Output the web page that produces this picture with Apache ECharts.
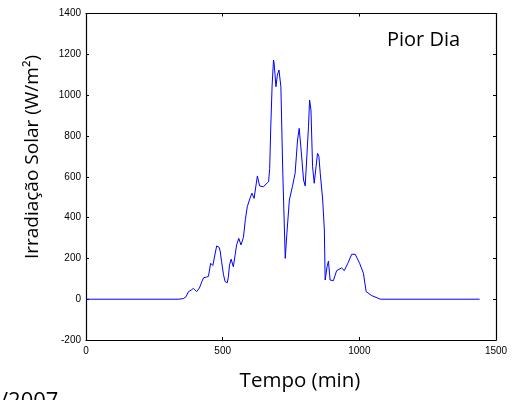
<!DOCTYPE html>
<html>
<head>
<meta charset="utf-8">
<script src="https://cdn.jsdelivr.net/npm/echarts@6/dist/echarts.min.js"></script>
<style>
html,body{margin:0;padding:0;background:#fff;}
#c{width:513px;height:400px;}
</style>
</head>
<body>
<div id="c"></div>
<script>
const timeMin = [0, 340, 356, 366, 375, 385, 393, 400, 405, 415, 424, 430, 440, 448, 456, 464, 470, 478, 487, 491, 496, 503, 509, 517, 521, 525, 531, 539, 546, 551, 559, 567, 576, 583, 590, 600, 607, 615, 627, 635, 649, 668, 672, 676, 681, 686, 688, 695, 700, 706, 713, 720, 729, 735, 744, 755, 765, 774, 780, 786, 796, 802, 808, 814, 818, 823, 829, 835, 840, 847, 852, 857, 866, 872, 875, 878, 882, 887, 893, 905, 917, 935, 945, 958, 972, 985, 1001, 1015, 1025, 1046, 1077, 1440];
const irradiance = [0, 0, 3, 12, 37, 45, 53, 45, 37, 55, 86, 105, 108, 112, 176, 165, 172, 261, 254, 235, 184, 120, 86, 81, 110, 168, 196, 159, 220, 266, 298, 266, 303, 390, 453, 495, 519, 494, 604, 555, 551, 576, 640, 845, 1050, 1172, 1160, 1041, 1098, 1123, 1041, 617, 200, 323, 486, 551, 617, 780, 837, 747, 584, 555, 560, 845, 976, 927, 649, 568, 576, 715, 700, 617, 486, 339, 94, 86, 159, 187, 94, 91, 140, 153, 140, 176, 220, 220, 176, 127, 37, 17, 0, 0];
const xTicks = [0, 500, 1000, 1500];
const yTicks = [-200, 0, 200, 400, 600, 800, 1000, 1200, 1400];
const chartTitle = 'Pior Dia';
const xTitle = 'Tempo (min)';
const yTitle = 'Irradiação Solar (W/m²)';
const cutText = '/2007';

const points = timeMin.map((t, i) => [t, irradiance[i]]);
const chart = echarts.init(document.getElementById('c'));
const lbl = {color: '#000', fontFamily: 'Liberation Sans, Arial', fontSize: 10, formatter: v => String(v)};
const axLine = {show: true, onZero: false, lineStyle: {color: '#000', width: 1.2}};
const tick = {show: true, inside: true, length: 3, lineStyle: {color: '#000'}};
chart.setOption({
  animation: false,
  backgroundColor: '#fff',
  grid: {left: 86, right: 17, top: 13.5, bottom: 60},
  xAxis: [
    {type: 'value', min: xTicks[0], max: xTicks[xTicks.length-1], interval: 500,
     axisLine: axLine, axisTick: tick, splitLine: {show: false},
     axisLabel: Object.assign({margin: 6}, lbl)},
    {type: 'value', position: 'top', min: xTicks[0], max: xTicks[xTicks.length-1], interval: 500,
     axisLine: axLine, axisTick: tick, splitLine: {show: false}, axisLabel: {show: false}}
  ],
  yAxis: [
    {type: 'value', min: yTicks[0], max: yTicks[yTicks.length-1], interval: 200,
     axisLine: axLine, axisTick: tick, splitLine: {show: false},
     axisLabel: Object.assign({margin: 5}, lbl)},
    {type: 'value', position: 'right', min: yTicks[0], max: yTicks[yTicks.length-1], interval: 200,
     axisLine: axLine, axisTick: tick, splitLine: {show: false}, axisLabel: {show: false}}
  ],
  series: [{
    type: 'line', data: points, showSymbol: false, symbol: 'none',
    lineStyle: {color: '#0000ff', width: 1}, xAxisIndex: 0, yAxisIndex: 0
  }],
  graphic: [
    {type: 'text', left: 387, top: 30, style: {text: chartTitle, fill: '#000', font: '20px "Open Sans"'}},
    {type: 'text', x: 300, y: 381, style: {text: xTitle, fill: '#000', font: '20.5px "Open Sans"', align: 'center', verticalAlign: 'middle'}},
    {type: 'text', x: 33, y: 157, rotation: Math.PI/2, style: {text: yTitle, fill: '#000', font: '19px "Open Sans"', align: 'center', verticalAlign: 'middle'}},
    {type: 'text', x: 0, y: 391, style: {text: cutText, fill: '#000', font: '22px "Open Sans"'}}
  ]
});
</script>
</body>
</html>
